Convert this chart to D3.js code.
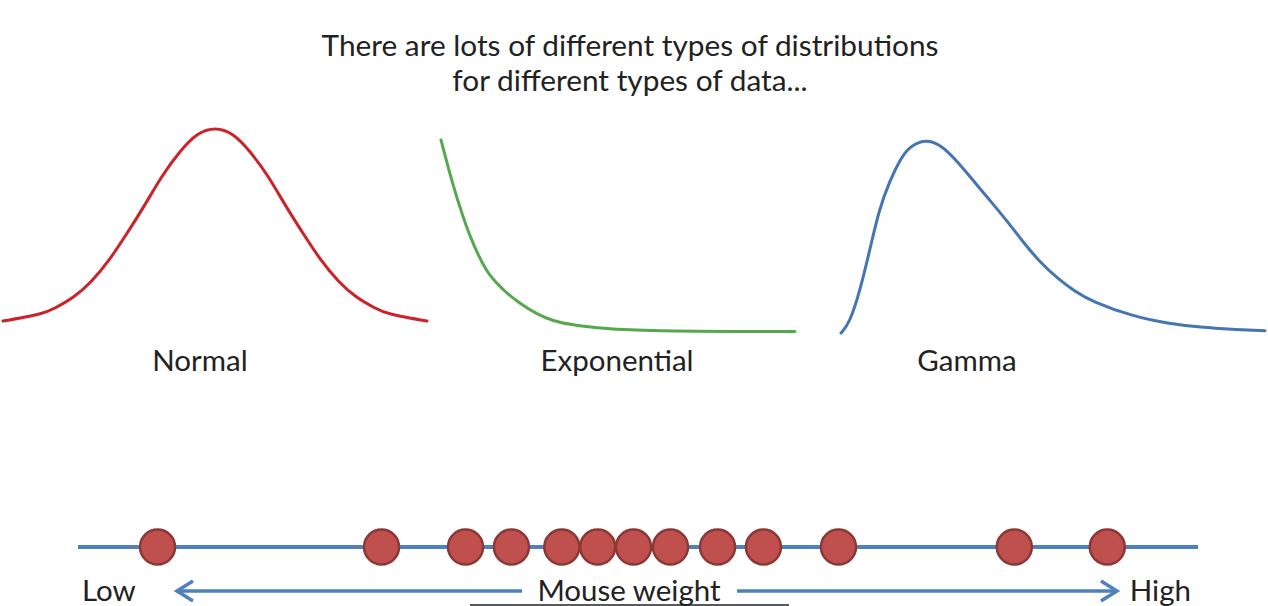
<!DOCTYPE html>
<html lang="en">
<head>
<meta charset="UTF-8">
<title>Types of distributions</title>
<script src="https://cdnjs.cloudflare.com/ajax/libs/d3/7.8.5/d3.min.js"></script>
<style>
  body { margin: 0; background: #fff; }
  svg { display: block; }
  text { font-family: Lato, "Open Sans", sans-serif; fill: #222; }
</style>
</head>
<body>
<svg id="chart" width="1268" height="606"></svg>
<script>
// values (relative heights, 0..1)
const titleLines = ['There are lots of different types of distributions', 'for different types of data...'];

const normalX = [-3, -2.5, -2.25, -2, -1.75, -1.5, -1.25, -1, -0.75, -0.5, -0.25, 0,
                 0.25, 0.5, 0.75, 1, 1.25, 1.5, 1.75, 2, 2.25, 2.5, 3];
const normalY = [0.01, 0.045, 0.08, 0.135, 0.215, 0.325, 0.46, 0.605, 0.755, 0.88, 0.97, 1,
                 0.97, 0.88, 0.755, 0.605, 0.46, 0.325, 0.215, 0.135, 0.08, 0.045, 0.01];

const expoX = [0, 0.3, 0.7, 1.1, 1.5, 1.9, 2.7, 3.9, 5.1, 7, 8.5];
const expoY = [1, 0.76, 0.5, 0.32, 0.22, 0.15, 0.06, 0.02, 0.008, 0.003, 0.002];

const gammaX = [0, 0.2, 0.45, 0.7, 0.9, 1.15, 1.4, 1.6, 2.0, 2.35, 2.7, 3.1, 3.5, 3.9, 4.3, 4.7,
                5.1, 5.5, 5.9, 6.9, 7.7, 8.5, 9.2, 10];
const gammaY = [0, 0.05, 0.22, 0.45, 0.64, 0.79, 0.9, 0.965, 1.005, 0.975, 0.9, 0.795, 0.69, 0.585, 0.47, 0.365,
                0.285, 0.218, 0.165, 0.085, 0.05, 0.029, 0.019, 0.012];

const curveNames = ['Normal', 'Exponential', 'Gamma'];

// mouse weights, arbitrary units from low (0) to high (100)
const weights = [7.1, 27.1, 34.6, 38.7, 43.2, 46.4, 49.6, 52.9, 57.1, 61.2, 67.9, 83.6, 91.9];
const axisLabels = ['Low', 'Mouse weight', 'High'];

const svg = d3.select('#chart');

// title
svg.append('g').selectAll('text')
    .data(titleLines)
    .join('text')
    .attr('x', 630)
    .attr('y', (d, i) => 56 + i * 35)
    .attr('text-anchor', 'middle')
    .style('font-size', '29.8px')
    .text(d => d);

// distribution curves
const panels = [
    { xs: normalX, ys: normalY, x: d3.scaleLinear().domain([-3, 3]).range([3, 427]),
      y: d3.scaleLinear().domain([0, 1]).range([323, 129]), color: '#cc2229', label: 200,
      curve: d3.curveNatural },
    { xs: expoX, ys: expoY, x: d3.scaleLinear().domain([0, 8.5]).range([441, 795]),
      y: d3.scaleLinear().domain([0, 1]).range([332, 140]), color: '#55a84d', label: 617,
      curve: d3.curveMonotoneX },
    { xs: gammaX, ys: gammaY, x: d3.scaleLinear().domain([0, 10]).range([841, 1265]),
      y: d3.scaleLinear().domain([0, 1]).range([333, 140]), color: '#4676b2', label: 967,
      curve: d3.curveBasis }
];

panels.forEach((p, k) => {
    const line = d3.line()
        .x(i => p.x(p.xs[i]))
        .y(i => p.y(p.ys[i]))
        .curve(p.curve);

    svg.append('path')
        .attr('d', line(d3.range(p.xs.length)))
        .attr('fill', 'none')
        .attr('stroke', p.color)
        .attr('stroke-width', 3)
        .attr('stroke-linecap', 'round');

    svg.append('text')
        .attr('x', p.label)
        .attr('y', 371)
        .attr('text-anchor', 'middle')
        .style('font-size', '29.5px')
        .text(curveNames[k]);
});

// weight line with dots
const wx = d3.scaleLinear().domain([0, 100]).range([78, 1198]);
const lineY = 547;

svg.append('line')
    .attr('x1', wx(0)).attr('x2', wx(100))
    .attr('y1', lineY).attr('y2', lineY)
    .attr('stroke', '#4f81bd')
    .attr('stroke-width', 4);

svg.append('g').selectAll('circle')
    .data(weights)
    .join('circle')
    .attr('cx', d => wx(d))
    .attr('cy', lineY)
    .attr('r', 17.5)
    .attr('fill', '#c0504d')
    .attr('stroke', '#8c3836')
    .attr('stroke-width', 2.5);

// low / high arrow
const arrowY = 591;
const blue = '#4f81bd';
const arrows = svg.append('g')
    .attr('fill', 'none')
    .attr('stroke', blue)
    .attr('stroke-width', 3.5)
    .attr('stroke-linejoin', 'miter')
    .attr('stroke-linecap', 'butt');

arrows.append('line').attr('x1', 522).attr('x2', 178).attr('y1', arrowY).attr('y2', arrowY);
arrows.append('line').attr('x1', 737).attr('x2', 1115).attr('y1', arrowY).attr('y2', arrowY);
arrows.append('path').attr('d', `M${193},${arrowY - 10} L${177},${arrowY} L${193},${arrowY + 10}`);
arrows.append('path').attr('d', `M${1101},${arrowY - 10} L${1117},${arrowY} L${1101},${arrowY + 10}`);

svg.append('g').selectAll('text')
    .data(axisLabels)
    .join('text')
    .attr('x', (d, i) => [82, 629, 1191][i])
    .attr('y', 601)
    .attr('text-anchor', (d, i) => ['start', 'middle', 'end'][i])
    .style('font-size', '29.5px')
    .text(d => d);

// thin dark rule at the bottom edge
svg.append('line')
    .attr('x1', 470).attr('x2', 789)
    .attr('y1', 605).attr('y2', 605)
    .attr('stroke', '#222')
    .attr('stroke-width', 1.5);
</script>
</body>
</html>
